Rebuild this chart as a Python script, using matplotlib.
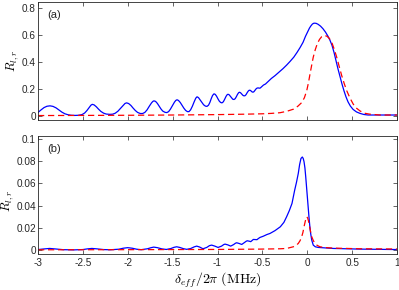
import matplotlib
matplotlib.use("Agg")
import matplotlib.pyplot as plt

plt.rcParams['font.family'] = ['Liberation Sans', 'DejaVu Sans']
plt.rcParams['mathtext.fontset'] = 'cm'

# ---- panel (a) data ----
xa_blue = [-3.000, -2.966, -2.933, -2.900, -2.866, -2.833, -2.799, -2.766, -2.733, -2.700,
           -2.666, -2.630, -2.590, -2.550, -2.510, -2.480, -2.455, -2.430, -2.410, -2.395,
           -2.375, -2.350, -2.325, -2.300, -2.270, -2.240, -2.200, -2.170, -2.140, -2.110,
           -2.080, -2.050, -2.030, -2.012, -1.990, -1.965, -1.940, -1.915, -1.890, -1.860,
           -1.835, -1.810, -1.785, -1.760, -1.735, -1.720, -1.708, -1.690, -1.670, -1.650,
           -1.630, -1.610, -1.585, -1.565, -1.545, -1.525, -1.500, -1.480, -1.465, -1.451,
           -1.435, -1.415, -1.395, -1.375, -1.355, -1.335, -1.318, -1.300, -1.280, -1.260,
           -1.242, -1.228, -1.212, -1.195, -1.175, -1.155, -1.135, -1.117, -1.100, -1.085,
           -1.070, -1.055, -1.039, -1.025, -1.010, -0.995, -0.980, -0.965, -0.950, -0.935,
           -0.920, -0.905, -0.893, -0.883, -0.870, -0.857, -0.843, -0.830, -0.816, -0.803,
           -0.790, -0.777, -0.765, -0.755, -0.743, -0.730, -0.717, -0.705, -0.694, -0.682,
           -0.670, -0.658, -0.648, -0.638, -0.627, -0.616, -0.605, -0.594, -0.582, -0.570,
           -0.558, -0.546, -0.535, -0.524, -0.512, -0.500, -0.488, -0.476, -0.465, -0.452,
           -0.437, -0.400, -0.359, -0.315, -0.270, -0.230, -0.192, -0.150, -0.114, -0.080,
           -0.047, -0.020, 0.008, 0.025, 0.042, 0.058, 0.075, 0.098, 0.120, 0.148,
           0.175, 0.203, 0.231, 0.254, 0.276, 0.298, 0.320, 0.342, 0.365, 0.387,
           0.409, 0.431, 0.454, 0.480, 0.510, 0.548, 0.588, 0.630, 0.677, 0.811, 1.000]
ya_blue = [0.026, 0.045, 0.062, 0.072, 0.075, 0.071, 0.060, 0.044, 0.028, 0.016,
           0.009, 0.005, 0.004, 0.005, 0.010, 0.022, 0.040, 0.063, 0.080, 0.086,
           0.082, 0.068, 0.050, 0.034, 0.021, 0.014, 0.012, 0.013, 0.020, 0.035,
           0.057, 0.080, 0.093, 0.097, 0.092, 0.078, 0.058, 0.040, 0.026, 0.018,
           0.018, 0.026, 0.045, 0.072, 0.097, 0.108, 0.112, 0.108, 0.093, 0.073,
           0.052, 0.036, 0.027, 0.025, 0.032, 0.050, 0.078, 0.102, 0.115, 0.120,
           0.115, 0.100, 0.079, 0.058, 0.041, 0.032, 0.032, 0.045, 0.072, 0.105,
           0.132, 0.142, 0.136, 0.120, 0.100, 0.083, 0.073, 0.071, 0.080, 0.100,
           0.128, 0.152, 0.164, 0.160, 0.146, 0.127, 0.110, 0.100, 0.097, 0.105,
           0.124, 0.145, 0.157, 0.161, 0.157, 0.146, 0.133, 0.124, 0.122, 0.128,
           0.143, 0.160, 0.172, 0.176, 0.172, 0.162, 0.153, 0.149, 0.150, 0.158,
           0.172, 0.184, 0.190, 0.191, 0.186, 0.179, 0.176, 0.180, 0.190, 0.201,
           0.207, 0.208, 0.206, 0.207, 0.214, 0.222, 0.229, 0.233, 0.237, 0.245,
           0.255, 0.278, 0.299, 0.325, 0.351, 0.377, 0.404, 0.436, 0.471, 0.507,
           0.546, 0.590, 0.628, 0.652, 0.669, 0.682, 0.688, 0.687, 0.680, 0.666,
           0.647, 0.622, 0.591, 0.560, 0.523, 0.472, 0.411, 0.350, 0.292, 0.237,
           0.187, 0.143, 0.105, 0.074, 0.049, 0.030, 0.019, 0.011, 0.007, 0.007, 0.007]

xa_red = [-3.0, -2.5, -2.0, -1.5, -1.0, -0.7, -0.5, -0.4, -0.304, -0.23,
          -0.155, -0.105, -0.062, -0.032, -0.006, 0.013, 0.031, 0.049, 0.067, 0.090,
          0.112, 0.137, 0.161, 0.189, 0.217, 0.245, 0.272, 0.300, 0.328, 0.356,
          0.384, 0.412, 0.440, 0.476, 0.513, 0.550, 0.588, 0.640, 0.699, 0.811, 1.0]
ya_red = [0.003, 0.004, 0.005, 0.007, 0.010, 0.013, 0.016, 0.019, 0.024, 0.034,
          0.050, 0.072, 0.099, 0.135, 0.187, 0.245, 0.312, 0.375, 0.436, 0.493,
          0.536, 0.568, 0.588, 0.596, 0.592, 0.576, 0.548, 0.496, 0.436, 0.367,
          0.299, 0.240, 0.187, 0.133, 0.087, 0.057, 0.037, 0.020, 0.013, 0.007, 0.007]

# ---- panel (b) data ----
xb_blue = [-3.0, -2.94, -2.87, -2.80, -2.72, -2.6, -2.5, -2.45, -2.4, -2.34,
           -2.27, -2.2, -2.1, -2.05, -2.0, -1.95, -1.9, -1.85, -1.78, -1.74,
           -1.71, -1.67, -1.62, -1.57, -1.52, -1.485, -1.455, -1.42, -1.38, -1.343,
           -1.30, -1.26, -1.232, -1.20, -1.162, -1.12, -1.09, -1.065, -1.03, -0.994,
           -0.955, -0.93, -0.916, -0.885, -0.853, -0.82, -0.80, -0.786, -0.76, -0.730,
           -0.70, -0.68, -0.668, -0.645, -0.63, -0.615, -0.601, -0.58, -0.56, -0.545,
           -0.527, -0.49, -0.45, -0.415, -0.36, -0.30, -0.26, -0.23, -0.20, -0.17,
           -0.14, -0.12, -0.10, -0.085, -0.070, -0.055, -0.045, -0.036, -0.026, -0.017,
           -0.008, 0.001, 0.010, 0.019, 0.028, 0.038, 0.050, 0.067, 0.090, 0.123,
           0.290, 0.588, 1.0]
yb_blue = [0.0005, 0.0010, 0.0015, 0.0010, 0.0004, 0.0002, 0.0005, 0.0011, 0.0015, 0.0011,
           0.0005, 0.0003, 0.0008, 0.0017, 0.0022, 0.0017, 0.0008, 0.0004, 0.0012, 0.0022,
           0.0027, 0.0022, 0.0011, 0.0006, 0.0014, 0.0025, 0.0030, 0.0024, 0.0013, 0.0007,
           0.0014, 0.0029, 0.0036, 0.0028, 0.0012, 0.0024, 0.0040, 0.0045, 0.0036, 0.0024,
           0.0036, 0.0050, 0.0054, 0.0047, 0.0036, 0.0050, 0.0062, 0.0066, 0.0060, 0.0051,
           0.0068, 0.0080, 0.0084, 0.0080, 0.0076, 0.0086, 0.0096, 0.0095, 0.0094, 0.0104,
           0.0114, 0.0125, 0.0140, 0.0150, 0.0175, 0.0210, 0.0250, 0.0300, 0.0355, 0.0420,
           0.0540, 0.0610, 0.0690, 0.0770, 0.0825, 0.0838, 0.0825, 0.0796, 0.0740, 0.0660,
           0.0570, 0.0480, 0.0390, 0.0300, 0.0220, 0.0150, 0.0090, 0.0045, 0.0030, 0.0024,
           0.0015, 0.0009, 0.0005]

xb_red = [-3.0, -2.0, -1.0, -0.527, -0.30, -0.23, -0.155, -0.125, -0.10, -0.08,
          -0.062, -0.048, -0.036, -0.022, -0.012, -0.006, 0.004, 0.013, 0.023, 0.036,
          0.050, 0.068, 0.087, 0.112, 0.142, 0.20, 0.290, 0.588, 1.0]
yb_red = [0.0003, 0.0004, 0.0006, 0.0009, 0.0012, 0.0015, 0.003, 0.0042, 0.006, 0.0085,
          0.012, 0.016, 0.021, 0.026, 0.029, 0.030, 0.029, 0.0265, 0.0225, 0.017,
          0.012, 0.0085, 0.006, 0.0042, 0.003, 0.0023, 0.0018, 0.0012, 0.001]

xticks = [-3, -2.5, -2, -1.5, -1, -0.5, 0, 0.5, 1]
xticklabels = ['-3', '-2.5', '-2', '-1.5', '-1', '-0.5', '0', '0.5', '1']
yticks_a = [0, 0.2, 0.4, 0.6, 0.8]
yticklabels_a = ['0', '0.2', '0.4', '0.6', '0.8']
yticks_b = [0, 0.02, 0.04, 0.06, 0.08, 0.1]
yticklabels_b = ['0', '0.02', '0.04', '0.06', '0.08', '0.1']

fig = plt.figure(figsize=(3.99, 2.9), dpi=100)
W, H = 399, 290
axa = fig.add_axes([38 / W, 1 - 120 / H, 359 / W, 118 / H])
axb = fig.add_axes([38 / W, 1 - 254 / H, 359 / W, 118 / H])

frame_col = '#262626'
for ax in (axa, axb):
    for s in ax.spines.values():
        s.set_color(frame_col)
        s.set_linewidth(0.6)
    ax.tick_params(direction='in', top=True, right=True, length=3, width=0.5,
                   color=frame_col, labelsize=7.2, labelcolor=frame_col, pad=3)
    ax.tick_params(axis='y', pad=1.5)
    ax.set_xlim(-3, 1)
    ax.set_xticks(xticks)
    ax.set_ylabel(r'$R_{l,r}$', fontsize=9)

# ylabel anchor is its right edge (rotated text bottom)
axa.yaxis.set_label_coords((21 - 38) / 359, 0.5)
axb.yaxis.set_label_coords((16 - 38) / 359, 0.45)

axa.plot(xa_blue, ya_blue, color='#0000ff', lw=0.9)
axa.plot(xa_red, ya_red, color='#ff0000', lw=0.9, linestyle=(0, (5, 3)))
axa.set_ylim(-0.03, 0.845)
axa.set_yticks(yticks_a)
axa.set_yticklabels(yticklabels_a)
axa.set_xticklabels([])
axa.text(0.025, 0.93, '(a)', transform=axa.transAxes, fontsize=8, va='top', ha='left',
         color=frame_col)

axb.plot(xb_blue, yb_blue, color='#0000ff', lw=0.9)
axb.plot(xb_red, yb_red, color='#ff0000', lw=0.9, linestyle=(0, (5, 3)))
axb.set_ylim(-0.0035, 0.1027)
axb.set_yticks(yticks_b)
axb.set_yticklabels(yticklabels_b)
axb.set_xticklabels(xticklabels)
axb.set_xlabel(r'$\delta_{eff}/2\pi\ \mathrm{(MHz)}$', fontsize=10, labelpad=2)
axb.text(0.025, 0.93, '(b)', transform=axb.transAxes, fontsize=8, va='top', ha='left',
         color=frame_col)

fig.savefig('out.png', dpi=100)
